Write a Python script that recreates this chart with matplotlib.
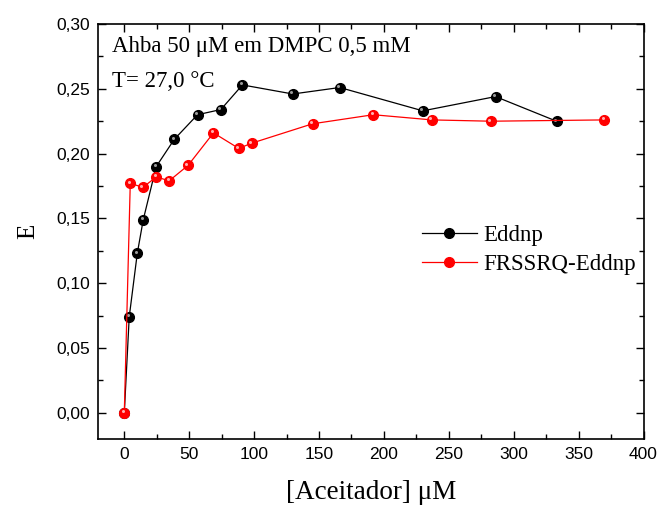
import matplotlib
matplotlib.use("Agg")
import matplotlib.pyplot as plt
from matplotlib import ticker
from matplotlib.transforms import ScaledTranslation

# Acceptor concentration (uM) and transfer efficiency E
x_eddnp = [0, 3.8, 10.0, 14.6, 24.6, 38.5, 56.4, 74.4, 91.0, 129.8, 166.0, 230.0, 286.0, 333.0]
e_eddnp = [0.0, 0.074, 0.123, 0.149, 0.190, 0.211, 0.230, 0.234, 0.253, 0.246, 0.251, 0.233, 0.244, 0.225]

x_frssrq = [0, 4.6, 14.4, 24.6, 34.6, 49.2, 68.7, 88.2, 98.0, 145.0, 191.8, 237.0, 282.5, 369.8]
e_frssrq = [0.0, 0.177, 0.174, 0.182, 0.179, 0.191, 0.216, 0.204, 0.208, 0.223, 0.230, 0.226, 0.225, 0.226]

serif = ["Liberation Serif", "DejaVu Serif"]
sans = ["Liberation Sans", "DejaVu Sans"]

fig = plt.figure(figsize=(6.6, 5.11), dpi=100)
ax = fig.add_axes([0.149, 0.1415, 0.826, 0.8115])


def ball(xs, ys, color, hi, label):
    ax.plot(xs, ys, "-", color=color, lw=0.9, marker="o", ms=7,
            mfc=color, mec=color, label=label)
    # small highlight to mimic the shaded sphere markers
    off = ax.transData + ScaledTranslation(-1.2 / 72, 1.2 / 72, fig.dpi_scale_trans)
    ax.plot(xs, ys, "o", ms=2.2, color=hi, mec="none", transform=off)


ball(x_eddnp, e_eddnp, "black", "#9a9a9a", "Eddnp")
ball(x_frssrq, e_frssrq, "#ff0000", "#ffb0b0", "FRSSRQ-Eddnp")

ax.set_xlim(-20, 400)
ax.set_ylim(-0.02, 0.30)
ax.xaxis.set_major_locator(ticker.MultipleLocator(50))
ax.xaxis.set_minor_locator(ticker.MultipleLocator(25))
ax.yaxis.set_major_locator(ticker.MultipleLocator(0.05))
ax.yaxis.set_minor_locator(ticker.MultipleLocator(0.025))
ax.yaxis.set_major_formatter(ticker.FuncFormatter(lambda v, p: f"{v:.2f}".replace(".", ",")))
ax.tick_params(which="both", direction="in", top=True, right=True, width=1.0)
ax.tick_params(which="major", length=6, labelsize=12.5, pad=6)
ax.tick_params(which="minor", length=3.5)
for lab in ax.get_xticklabels() + ax.get_yticklabels():
    lab.set_family(sans)
for s in ax.spines.values():
    s.set_linewidth(1.2)

ax.set_xlabel("[Aceitador] μM", family=serif, fontsize=19.5, labelpad=13)
ax.set_ylabel("E", family=serif, fontsize=18, labelpad=12)

ax.text(0.025, 0.945, "Ahba 50 μM em DMPC 0,5 mM", transform=ax.transAxes,
        family=serif, fontsize=16.5, va="center")
ax.text(0.025, 0.862, "T= 27,0 °C", transform=ax.transAxes,
        family=serif, fontsize=16.5, va="center")

leg = ax.legend(loc="upper left", bbox_to_anchor=(0.555, 0.565), frameon=False,
                prop={"family": serif, "size": 16.5}, handlelength=2.4,
                handletextpad=0.3, labelspacing=0.35)

fig.savefig("out.png", dpi=100)
